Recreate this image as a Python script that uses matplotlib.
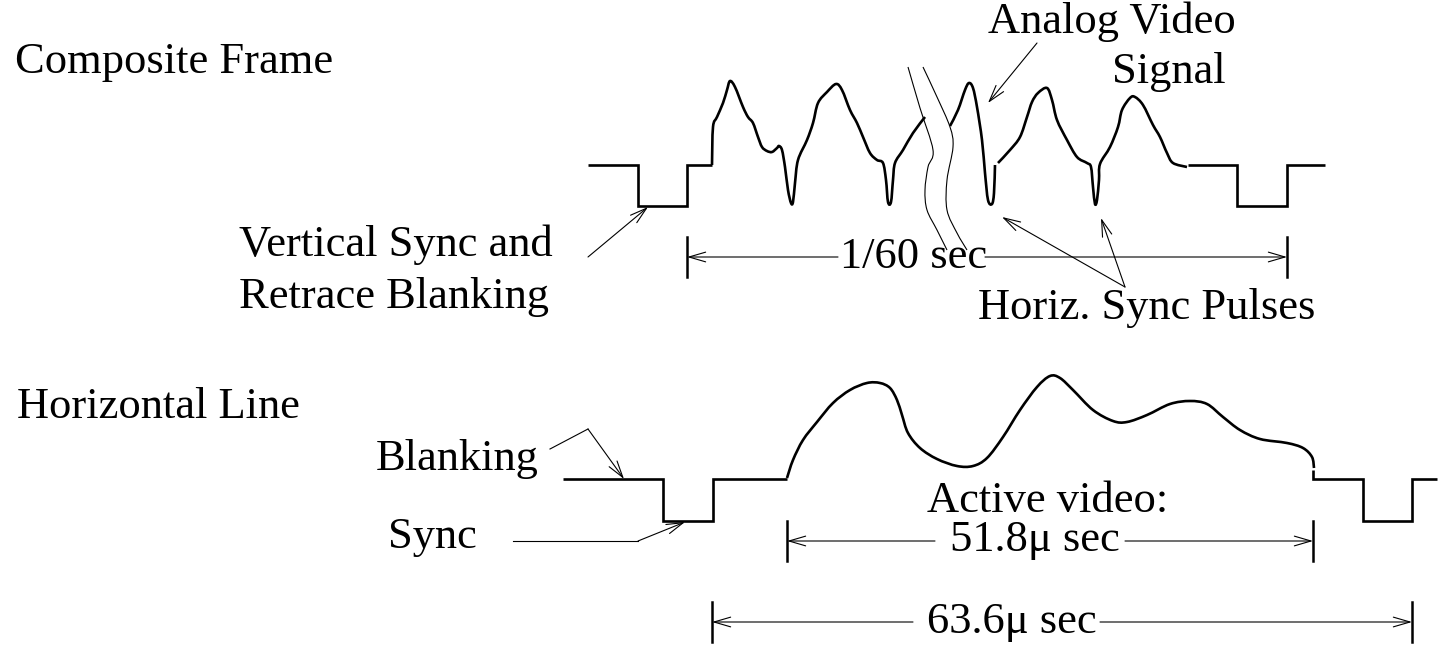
import matplotlib
matplotlib.use("Agg")
import matplotlib.pyplot as plt
from matplotlib.path import Path
from matplotlib.patches import PathPatch

# --- diagram geometry, in picture pixels (x right, y down) ---

# composite frame: blanking/sync steps (straight) and video runs (smooth)
frame_step_left = [(588, 165), (638, 165), (638, 206), (687, 206), (687, 165), (712, 165)]
frame_video_1 = [(712, 165), (713, 127), (717, 117), (723, 103), (727, 90), (730, 81),
                 (735, 87), (743, 107), (748, 117), (753, 123), (758, 137), (762, 147),
                 (767, 151), (772, 152), (777, 148), (779, 146), (782, 150), (785, 167),
                 (788, 190), (791, 203), (793, 202), (795, 183), (798, 160), (807, 140),
                 (813, 123), (818, 103), (827, 92), (836, 84), (842, 90), (850, 110),
                 (857, 123), (863, 137), (870, 153), (877, 160), (883, 163), (886, 180),
                 (888, 202), (891, 202), (893, 180), (895, 163), (903, 150), (913, 133),
                 (925, 117)]
frame_video_2 = [(950, 126), (958, 110), (965, 90), (969, 83), (973, 88), (977, 107),
                 (982, 140), (985, 173), (988, 200), (992, 204), (994, 193), (995, 165)]
frame_video_3 = [(998, 163), (1010, 150), (1020, 137), (1027, 117), (1032, 102),
                 (1038, 93), (1047, 88), (1052, 100), (1057, 120), (1067, 140),
                 (1077, 157), (1087, 163), (1091, 167), (1093, 187), (1095, 204),
                 (1097, 200), (1099, 180), (1100, 164), (1110, 147), (1118, 127),
                 (1122, 110), (1130, 98), (1135, 97), (1143, 105), (1153, 125),
                 (1160, 137), (1167, 153), (1173, 163), (1187, 167)]
frame_step_right = [(1188, 165), (1237, 165), (1237, 206), (1287, 206), (1287, 165), (1325, 165)]

# break marks across the frame
break_a = [(908, 67), (920, 108), (933, 150), (928, 167), (925, 190), (927, 210),
           (937, 230), (947, 250)]
break_b = [(923, 67), (937, 97), (950, 127), (953, 147), (947, 180), (947, 210),
           (957, 233), (967, 250)]

# horizontal line
line_step_left = [(563, 479), (663, 479), (663, 521), (713, 521), (713, 479), (787, 479)]
line_video = [(787, 478), (793, 460), (803, 440), (817, 422), (833, 403), (850, 390),
              (867, 383), (880, 383), (890, 388), (897, 400), (902, 415), (908, 433),
              (920, 448), (937, 459), (957, 466), (973, 466), (987, 458), (1003, 437),
              (1020, 410), (1037, 387), (1050, 376), (1060, 378), (1073, 390),
              (1093, 410), (1113, 421), (1127, 422), (1147, 415), (1170, 404),
              (1190, 401), (1207, 404), (1223, 417), (1240, 430), (1260, 439),
              (1287, 443), (1303, 448), (1312, 457), (1314, 468)]
line_step_right = [(1313, 470), (1313, 479), (1363, 479), (1363, 521), (1412, 521),
                   (1412, 479), (1437, 479)]

# (text, x, y) labels, left aligned on baseline
labels = [
    ("Composite Frame", 15, 73),
    ("Analog Video", 988, 33),
    ("Signal", 1112, 83),
    ("Vertical Sync and", 239, 256),
    ("Retrace Blanking", 239, 308),
    ("Horiz. Sync Pulses", 978, 319),
    ("Horizontal Line", 17, 418),
    ("Blanking", 376, 470),
    ("Sync", 388, 548),
    ("Active video:", 927, 512),
    ("51.8\u03bc sec", 950, 551),
    ("63.6\u03bc sec", 927, 633),
    ("1/60 sec", 840, 268),
]

# pointer arrows: (tail, head)
pointers = [
    ((1037, 43), (988, 103)),
    ((1125, 287), (1002, 217)),
    ((1125, 287), (1101, 218)),
    ((588, 257), (648, 207)),
    ((588, 429), (624, 479)),
    ((638, 541), (685, 522)),
]
# lead-in segments for the bent pointers
leaders = [[(550, 449), (588, 429)], [(513, 541), (638, 541)]]

# dimension lines: (x_left, x_right, y, text_left, text_right, half tick)
dimensions = [
    (687, 1287, 257, 838, 985, 20),
    (787, 1313, 541, 935, 1125, 20),
    (712, 1412, 622, 913, 1100, 20),
]


def smooth_path(pts):
    """Catmull-Rom through the points, handed to matplotlib as cubic Beziers."""
    verts = [pts[0]]
    codes = [Path.MOVETO]
    n = len(pts)
    for i in range(n - 1):
        p0 = pts[max(i - 1, 0)]
        p1 = pts[i]
        p2 = pts[i + 1]
        p3 = pts[min(i + 2, n - 1)]
        c1 = (p1[0] + (p2[0] - p0[0]) / 6, p1[1] + (p2[1] - p0[1]) / 6)
        c2 = (p2[0] - (p3[0] - p1[0]) / 6, p2[1] - (p3[1] - p1[1]) / 6)
        verts += [c1, c2, p2]
        codes += [Path.CURVE4] * 3
    return Path(verts, codes)


W, H = 1452, 651
fig = plt.figure(figsize=(W / 100, H / 100), dpi=100)
ax = fig.add_axes([0, 0, 1, 1])
ax.set_xlim(0, W)
ax.set_ylim(H, 0)
ax.axis("off")

for pts in (frame_step_left, frame_step_right, line_step_left, line_step_right):
    xs, ys = zip(*pts)
    ax.plot(xs, ys, color="black", lw=1.9, solid_joinstyle="miter", solid_capstyle="butt")

for pts in (frame_video_1, frame_video_2, frame_video_3, line_video):
    ax.add_patch(PathPatch(smooth_path(pts), fill=False, edgecolor="black", lw=1.9,
                           joinstyle="round", capstyle="butt"))

for pts in (break_a, break_b):
    ax.add_patch(PathPatch(smooth_path(pts), fill=False, edgecolor="black", lw=0.8))

arrow = dict(arrowstyle="->,head_length=1.2,head_width=0.35", lw=0.8,
             color="black", shrinkA=0, shrinkB=0, mutation_scale=10)

for pts in leaders:
    xs, ys = zip(*pts)
    ax.plot(xs, ys, color="black", lw=0.8)

for tail, head in pointers:
    ax.annotate("", xy=head, xytext=tail, arrowprops=arrow)

for x0, x1, y, t0, t1, h in dimensions:
    ax.plot([x0, x0], [y - h, y + h], color="black", lw=1.8)
    ax.plot([x1, x1], [y - h, y + h], color="black", lw=1.8)
    ax.annotate("", xy=(x0, y), xytext=(t0, y), arrowprops=arrow)
    ax.annotate("", xy=(x1, y), xytext=(t1, y), arrowprops=arrow)

for text, x, y in labels:
    ax.text(x, y, text, ha="left", va="baseline", fontsize=32,
            family=["Liberation Serif", "DejaVu Serif"], color="black")

fig.savefig("out.png", dpi=100, facecolor="white")
